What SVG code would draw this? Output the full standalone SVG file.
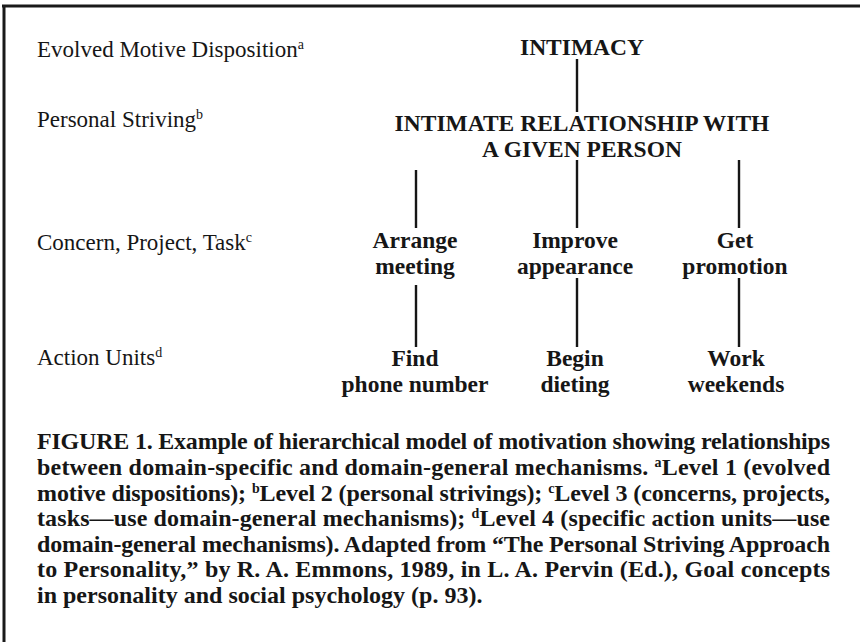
<svg xmlns="http://www.w3.org/2000/svg" width="860" height="642" viewBox="0 0 860 642">
<style>
.lbl{font-family:"Liberation Serif","Times New Roman",serif;font-size:23px;fill:#161616}
.nd{font-family:"Liberation Serif","Times New Roman",serif;font-size:23.5px;font-weight:bold;fill:#161616;text-anchor:middle}
.cap{font-family:"Liberation Serif","Times New Roman",serif;font-size:24px;font-weight:bold;fill:#161616}
.sup{font-size:14px}
.con line{stroke:#161616;stroke-width:2.4}
</style>
<rect width="860" height="642" fill="#fff"/>
<g id="frame" stroke="#1a1a1a" stroke-width="3" fill="none">
<line x1="2" y1="6" x2="860" y2="6"/>
<line x1="4" y1="5" x2="4" y2="642"/>
</g>
<g id="level-labels">
<text class="lbl" x="37" y="57">Evolved Motive Disposition<tspan class="sup" dy="-8">a</tspan></text>
<text class="lbl" x="37" y="127">Personal Striving<tspan class="sup" dy="-8">b</tspan></text>
<text class="lbl" x="37" y="250">Concern, Project, Task<tspan class="sup" dy="-8">c</tspan></text>
<text class="lbl" x="37" y="365">Action Units<tspan class="sup" dy="-8">d</tspan></text>
</g>
<g class="con" id="connectors">
<line x1="577" y1="59" x2="577" y2="112"/>
<line x1="416" y1="170" x2="416" y2="228"/>
<line x1="577" y1="160" x2="577" y2="228"/>
<line x1="739" y1="160" x2="739" y2="228"/>
<line x1="416" y1="285" x2="416" y2="347"/>
<line x1="577" y1="278" x2="577" y2="347"/>
<line x1="739" y1="278" x2="739" y2="347"/>
</g>
<g id="intimacy"><text class="nd" x="582" y="55">INTIMACY</text></g>
<g id="relationship"><text class="nd" x="582" y="131">INTIMATE RELATIONSHIP WITH</text><text class="nd" x="582" y="157">A GIVEN PERSON</text></g>
<g id="arrange"><text class="nd" x="415" y="248">Arrange</text><text class="nd" x="415" y="274">meeting</text></g>
<g id="improve"><text class="nd" x="575" y="248">Improve</text><text class="nd" x="575" y="274">appearance</text></g>
<g id="promotion"><text class="nd" x="735" y="248">Get</text><text class="nd" x="735" y="274">promotion</text></g>
<g id="find"><text class="nd" x="415" y="366">Find</text><text class="nd" x="415" y="392">phone number</text></g>
<g id="dieting"><text class="nd" x="575" y="366">Begin</text><text class="nd" x="575" y="392">dieting</text></g>
<g id="weekends"><text class="nd" x="736" y="366">Work</text><text class="nd" x="736" y="392">weekends</text></g>
<g id="caption">
<text class="cap" x="37" y="449" textLength="793" lengthAdjust="spacing">FIGURE 1. Example of hierarchical model of motivation showing relationships</text>
<text class="cap" x="37" y="475" textLength="793" lengthAdjust="spacing">between domain-specific and domain-general mechanisms. <tspan class="sup" dy="-8">a</tspan><tspan dy="8">Level 1 (evolved</tspan></text>
<text class="cap" x="37" y="500.5" textLength="793" lengthAdjust="spacing">motive dispositions); <tspan class="sup" dy="-8">b</tspan><tspan dy="8">Level 2 (personal strivings); </tspan><tspan class="sup" dy="-8">c</tspan><tspan dy="8">Level 3 (concerns, projects,</tspan></text>
<text class="cap" x="37" y="526" textLength="793" lengthAdjust="spacing">tasks—use domain-general mechanisms); <tspan class="sup" dy="-8">d</tspan><tspan dy="8">Level 4 (specific action units—use</tspan></text>
<text class="cap" x="37" y="551.5" textLength="793" lengthAdjust="spacing">domain-general mechanisms). Adapted from “The Personal Striving Approach</text>
<text class="cap" x="37" y="577" textLength="793" lengthAdjust="spacing">to Personality,” by R. A. Emmons, 1989, in L. A. Pervin (Ed.), Goal concepts</text>
<text class="cap" x="37" y="602.5">in personality and social psychology (p. 93).</text>
</g>
</svg>
